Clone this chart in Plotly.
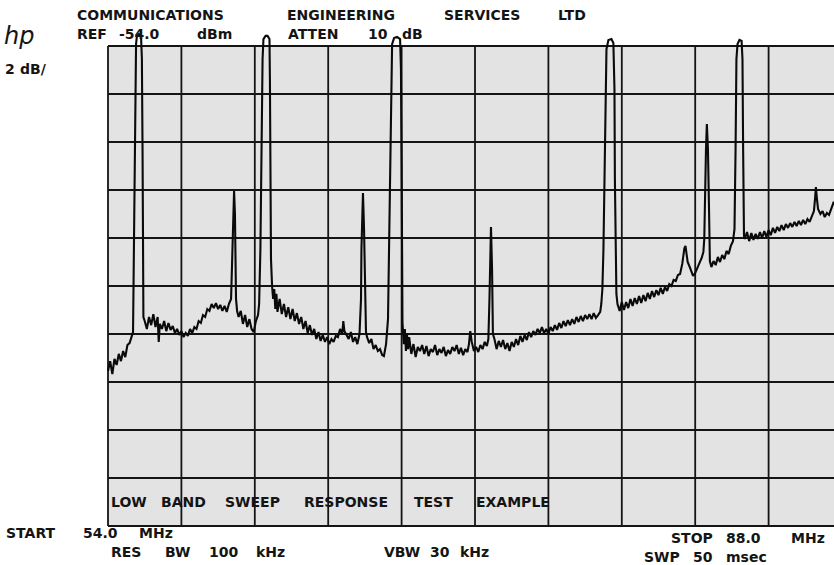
import plotly.graph_objects as go

# ---------------- data ----------------
FREQ_MHZ = [
    54.00, 54.10, 54.20, 54.30, 54.40, 54.50, 54.60, 54.70, 54.80, 54.90, 55.00, 55.10,
    55.16, 55.20, 55.25, 55.30, 55.34, 55.44, 55.53, 55.57, 55.60, 55.62, 55.64,
    55.70, 55.80, 55.90, 56.00, 56.10, 56.20, 56.30, 56.35, 56.40, 56.50, 56.60, 56.70, 56.80, 56.90,
    57.00, 57.10, 57.20, 57.30, 57.40, 57.50, 57.60, 57.70, 57.80, 57.90,
    58.00, 58.10, 58.20, 58.30, 58.40, 58.50, 58.60, 58.70, 58.80, 58.90,
    59.00, 59.10, 59.20, 59.30, 59.40, 59.50, 59.60, 59.70,
    59.74, 59.79, 59.84, 59.88, 59.91, 59.93, 59.98,
    60.05, 60.15, 60.25, 60.35, 60.45, 60.55, 60.65, 60.75, 60.85, 60.95, 61.00,
    61.06, 61.11, 61.16, 61.20, 61.30, 61.39, 61.48, 61.50, 61.53, 61.55, 61.60,
    61.65, 61.70, 61.75, 61.80, 61.85, 61.95, 62.05, 62.15, 62.25, 62.35, 62.45, 62.55, 62.65, 62.75, 62.85, 62.95,
    63.05, 63.15, 63.25, 63.35, 63.45, 63.55, 63.65, 63.75, 63.85, 63.95,
    64.05, 64.15, 64.25, 64.35, 64.45, 64.55, 64.65, 64.75, 64.85, 64.90, 64.95,
    65.05, 65.15, 65.25, 65.35, 65.45, 65.55, 65.65, 65.72,
    65.74, 65.77, 65.81, 65.86, 65.91, 65.95,
    66.00, 66.10, 66.20, 66.30, 66.40, 66.50, 66.60, 66.70, 66.78, 66.88, 66.97,
    67.02, 67.06, 67.11, 67.16, 67.25, 67.39, 67.53, 67.57, 67.60, 67.62, 67.64,
    67.70, 67.75, 67.80, 67.85, 67.90, 67.95, 68.05, 68.15, 68.25, 68.35, 68.45, 68.55, 68.65, 68.75, 68.85, 68.95,
    69.05, 69.15, 69.25, 69.35, 69.45, 69.55, 69.65, 69.75, 69.85, 69.95,
    70.05, 70.15, 70.25, 70.35, 70.45, 70.55, 70.65, 70.72, 70.78, 70.85, 70.95,
    71.05, 71.15, 71.25, 71.35, 71.45, 71.55, 71.62,
    71.67, 71.70, 71.74, 71.79, 71.83,
    71.90, 72.00, 72.10, 72.20, 72.30, 72.40, 72.50, 72.60, 72.70, 72.80, 72.90,
    73.00, 73.10, 73.20, 73.30, 73.40, 73.50, 73.60, 73.70, 73.80, 73.90,
    74.00, 74.10, 74.20, 74.30, 74.40, 74.50, 74.60, 74.70, 74.80, 74.90,
    75.00, 75.10, 75.20, 75.30, 75.40, 75.50, 75.60, 75.70, 75.80, 75.90,
    76.00, 76.10, 76.20, 76.30, 76.40, 76.50, 76.60, 76.70, 76.80, 76.85, 76.90,
    76.95, 77.00, 77.05, 77.09, 77.18, 77.32, 77.41, 77.46, 77.48, 77.51, 77.55,
    77.60, 77.70, 77.80, 77.90, 78.00, 78.10, 78.20, 78.30, 78.40, 78.50,
    78.60, 78.70, 78.80, 78.90, 79.00, 79.10, 79.20, 79.30, 79.40, 79.50,
    79.60, 79.70, 79.80, 79.90, 80.00, 80.10, 80.20, 80.30, 80.40, 80.50,
    80.60, 80.65, 80.70, 80.75, 80.80, 80.85, 80.95, 81.05, 81.10, 81.20, 81.30, 81.40, 81.50, 81.58, 81.62,
    81.65, 81.70, 81.74, 81.79, 81.84, 81.88,
    81.95, 82.05, 82.15, 82.25, 82.35, 82.45, 82.55, 82.65, 82.75, 82.85, 82.95, 83.02,
    83.07, 83.11, 83.16, 83.25, 83.35, 83.39, 83.42, 83.46,
    83.50, 83.60, 83.70, 83.80, 83.90, 84.00, 84.10, 84.20, 84.30, 84.40,
    84.50, 84.60, 84.70, 84.80, 84.90, 85.00, 85.10, 85.20, 85.30, 85.40,
    85.50, 85.60, 85.70, 85.80, 85.90, 86.00, 86.10, 86.20, 86.30, 86.40,
    86.50, 86.60, 86.70, 86.75, 86.79, 86.84, 86.89,
    87.00, 87.10, 87.20, 87.30, 87.40, 87.50, 87.60, 87.70, 87.80, 87.90, 88.00,
]

LEVEL_DBM = [
    -67.54, -67.13, -67.67, -67.04, -67.29, -66.83, -67.13, -66.71, -66.96, -66.46, -66.38, -66.04,
    -65.92, -62.46, -57.04, -53.92, -53.58, -53.50, -53.58, -54.54, -58.29, -62.46, -65.29,
    -65.46, -65.79, -65.29, -65.63, -65.17, -65.71, -65.29, -66.33, -65.58, -65.79, -65.46, -65.88, -65.54, -65.83,
    -65.67, -65.96, -65.79, -66.04, -65.88, -66.13, -65.96, -66.08, -65.79, -65.96,
    -65.71, -65.79, -65.46, -65.54, -65.21, -65.29, -64.96, -65.04, -64.75, -64.92,
    -64.71, -64.96, -64.79, -65.04, -64.83, -65.08, -64.75, -64.54,
    -63.29, -61.42, -60.04, -61.00, -62.88, -64.54, -65.04,
    -65.29, -65.04, -65.58, -65.21, -65.71, -65.38, -65.79, -65.92, -65.46, -65.21, -64.75,
    -62.46, -58.29, -54.54, -53.71, -53.58, -53.58, -53.71, -55.38, -59.54, -62.88, -64.00,
    -64.54, -64.13, -64.96, -64.33, -65.08, -64.54, -65.17, -64.75, -65.29, -64.88, -65.38, -64.96, -65.46, -65.13, -65.58, -65.29,
    -65.79, -65.46, -65.96, -65.63, -66.04, -65.79, -66.21, -65.92, -66.29, -66.04,
    -66.33, -66.13, -66.42, -66.21, -66.33, -66.08, -66.13, -65.79, -66.00, -65.46, -65.88,
    -66.04, -66.21, -65.92, -66.33, -66.13, -66.42, -66.00, -64.54,
    -62.46, -60.58, -60.13, -61.63, -64.54, -65.92,
    -66.13, -66.38, -66.21, -66.63, -66.46, -66.71, -66.63, -66.88, -66.92, -66.42, -65.38,
    -62.46, -58.71, -55.38, -53.92, -53.67, -53.62, -53.71, -54.96, -58.71, -62.46, -65.50,
    -66.42, -65.79, -66.71, -66.00, -66.63, -66.13, -66.83, -66.42, -66.96, -66.54, -66.71, -66.46, -66.83, -66.50, -66.92, -66.63,
    -66.75, -66.46, -66.88, -66.63, -66.79, -66.54, -66.92, -66.67, -66.83, -66.54,
    -66.71, -66.46, -66.83, -66.58, -66.88, -66.63, -66.75, -66.42, -65.88, -66.33, -66.71,
    -66.54, -66.75, -66.46, -66.63, -66.33, -66.50, -66.21,
    -64.54, -62.46, -61.54, -63.29, -66.00,
    -66.21, -66.63, -66.29, -66.54, -66.25, -66.63, -66.38, -66.71, -66.33, -66.54, -66.21,
    -66.46, -66.08, -66.33, -66.04, -66.25, -65.92, -66.13, -65.88, -66.04, -65.79,
    -65.96, -65.71, -65.96, -65.79, -66.00, -65.71, -65.88, -65.63, -65.83, -65.54,
    -65.75, -65.46, -65.67, -65.42, -65.63, -65.38, -65.58, -65.29, -65.50, -65.25,
    -65.46, -65.21, -65.38, -65.17, -65.38, -65.13, -65.33, -65.21, -65.08, -64.75, -64.13,
    -62.46, -59.13, -55.79, -54.13, -53.75, -53.71, -53.88, -55.79, -59.54, -62.88, -64.33,
    -64.75, -65.04, -64.67, -65.00, -64.67, -64.92, -64.54, -64.83, -64.50, -64.75,
    -64.42, -64.71, -64.38, -64.63, -64.29, -64.54, -64.21, -64.46, -64.17, -64.38,
    -64.08, -64.33, -64.04, -64.21, -63.92, -64.00, -63.75, -63.79, -63.54, -63.50,
    -63.08, -62.71, -62.42, -62.33, -62.71, -63.00, -63.21, -63.46, -63.58, -63.46, -63.21, -63.04, -62.83, -62.58, -62.04,
    -59.96, -58.29, -57.25, -58.29, -60.79, -62.96,
    -63.21, -62.96, -63.13, -62.79, -63.00, -62.71, -62.88, -62.54, -62.67, -62.33, -62.13, -61.63,
    -58.29, -54.54, -53.92, -53.75, -53.79, -54.54, -58.29, -61.92,
    -62.04, -61.75, -62.13, -61.79, -62.08, -61.83, -62.04, -61.75, -62.00, -61.71,
    -61.96, -61.67, -61.88, -61.58, -61.79, -61.54, -61.71, -61.46, -61.67, -61.42,
    -61.58, -61.38, -61.54, -61.33, -61.50, -61.29, -61.46, -61.25, -61.42, -61.21,
    -61.33, -61.13, -60.88, -60.38, -59.88, -60.38, -60.79,
    -61.00, -60.88, -61.13, -60.96, -61.04, -60.79, -60.54, -60.63, -60.42, -60.33, -60.29,
]

# analyser settings: 54-88 MHz span, 10 divisions; ref -54 dBm, 2 dB/div
GRID_FREQ_MHZ = [54.0, 57.4, 60.8, 64.2, 67.6, 71.0, 74.4, 77.8, 81.2, 84.6, 88.0]
GRID_LEVEL_DBM = [-74, -72, -70, -68, -66, -64, -62, -60, -58, -56, -54]

# annotation words (text, left px, centre px)
TEXT_WORDS = [
    ("COMMUNICATIONS", 76, 15), ("ENGINEERING", 286, 15), ("SERVICES", 443, 15), ("LTD", 557, 15),
    ("REF", 76, 34), ("-54.0", 118, 34), ("dBm", 196, 34),
    ("ATTEN", 287, 34), ("10", 367, 34), ("dB", 401, 34),
    ("2", 4, 69), ("dB/", 19, 69),
    ("LOW", 110, 502), ("BAND", 160, 502), ("SWEEP", 224, 502), ("RESPONSE", 303, 502),
    ("TEST", 413, 502), ("EXAMPLE", 475, 502),
    ("START", 5, 533), ("54.0", 82, 533), ("MHz", 138, 533),
    ("RES", 110, 552), ("BW", 164, 552), ("100", 208, 552), ("kHz", 255, 552),
    ("VBW", 383, 552), ("30", 429, 552), ("kHz", 459, 552),
    ("STOP", 670, 538), ("88.0", 725, 538), ("MHz", 790, 538),
    ("SWP", 643, 557), ("50", 692, 557), ("msec", 725, 557),
]

# ---------------- layout geometry ----------------
W, H = 834, 565
ML, MR, MT, MB = 104, 0, 30, 33
PX_PER_MHZ = 73.4 / 3.4
PX_PER_DB = 24.0
x0 = 54.0 - (108 - ML) / PX_PER_MHZ
x1 = x0 + (W - ML - MR) / PX_PER_MHZ
y0 = -74.0 - (H - MB - 526) / PX_PER_DB
y1 = y0 + (H - MT - MB) / PX_PER_DB


def paper(px, py):
    return (px - ML) / (W - ML - MR), (H - MB - py) / (H - MT - MB)


INK = "#141414"
FONT = dict(family="DejaVu Sans", size=14, color=INK, weight="bold")

fig = go.Figure()
fig.add_trace(go.Scatter(
    x=FREQ_MHZ, y=LEVEL_DBM, mode="lines",
    line=dict(color="#0a0a0a", width=2.1), hoverinfo="skip", showlegend=False,
))

shapes = [dict(type="rect", xref="x", yref="y",
               x0=GRID_FREQ_MHZ[0], x1=GRID_FREQ_MHZ[-1],
               y0=GRID_LEVEL_DBM[0], y1=GRID_LEVEL_DBM[-1],
               fillcolor="#e3e3e3", line=dict(width=0), layer="below")]
for f in GRID_FREQ_MHZ:
    shapes.append(dict(type="line", xref="x", yref="y", x0=f, x1=f,
                       y0=GRID_LEVEL_DBM[0], y1=GRID_LEVEL_DBM[-1],
                       line=dict(color=INK, width=1.8), layer="between"))
for lv in GRID_LEVEL_DBM:
    shapes.append(dict(type="line", xref="x", yref="y", x0=GRID_FREQ_MHZ[0], x1=GRID_FREQ_MHZ[-1],
                       y0=lv, y1=lv, line=dict(color=INK, width=1.8), layer="between"))

annotations = []
for txt, px, py in TEXT_WORDS:
    ax, ay = paper(px, py)
    annotations.append(dict(text=txt, x=ax, y=ay, xref="paper", yref="paper",
                            xanchor="left", yanchor="middle", showarrow=False,
                            font=FONT, borderpad=0))
hx, hy = paper(3, 36)
annotations.append(dict(text="hp", x=hx, y=hy, xref="paper", yref="paper",
                        xanchor="left", yanchor="middle", showarrow=False, borderpad=0,
                        font=dict(family="DejaVu Sans", size=24, color=INK, style="italic")))

fig.update_layout(
    width=W, height=H,
    margin=dict(l=ML, r=MR, t=MT, b=MB, pad=0),
    paper_bgcolor="#ffffff", plot_bgcolor="#ffffff",
    xaxis=dict(range=[x0, x1], visible=False, fixedrange=True),
    yaxis=dict(range=[y0, y1], visible=False, fixedrange=True),
    shapes=shapes, annotations=annotations,
    showlegend=False,
)

# remove the browser's default 8px page margin so the figure sits at the window origin
fig.write_html("out.html",
               config={"displayModeBar": False, "staticPlot": True},
               post_script="document.body.style.margin='0';document.body.style.overflow='hidden';")
